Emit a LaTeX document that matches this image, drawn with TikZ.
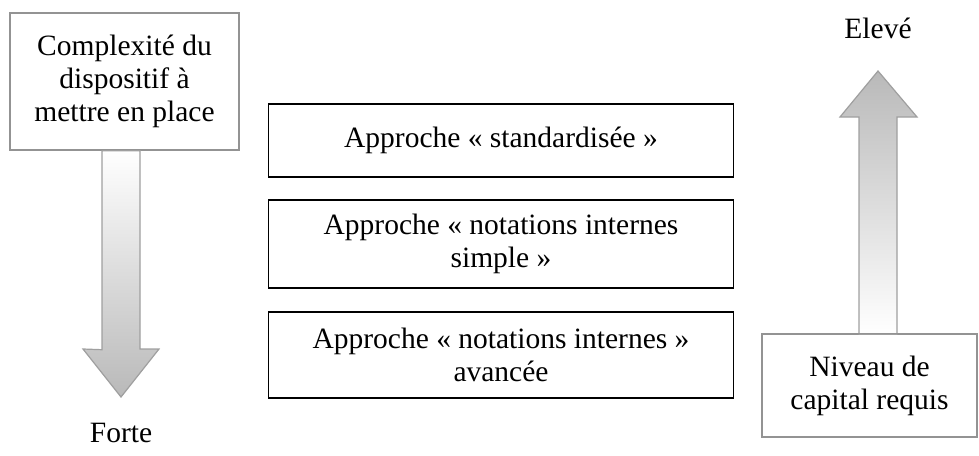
\documentclass[tikz,border=0pt]{standalone}
\usepackage{fontspec}
\setmainfont{Liberation Serif}
\usepackage{tikz}
\usetikzlibrary{calc}

\tikzset{
  txt/.style={font=\fontsize{29.5}{33}\selectfont, align=center, inner sep=0pt},
  approche/.style={txt, draw=black, line width=1.4pt, minimum width=465pt},
  graybox/.style={txt, draw=gray!85, line width=1.4pt, fill=white},
  blockarrow/.style={draw=gray!75, line width=1.2pt, line join=miter}
}

\begin{document}
\begin{tikzpicture}[x=1pt, y=-1pt]
    \useasboundingbox (0,0) rectangle (979,455);
    % left side: complexity, arrow going down
    \node[graybox, minimum width=229pt, minimum height=137pt] (cplx) at (124.5,81.5) {Complexit\'e du\\dispositif \`a\\mettre en place};
    \node[txt] (forte) at (121,433) {Forte};
    \shade[blockarrow, top color=white, bottom color=gray!55]
        ($(cplx.south)+(-22.5,0)$) -- ++(0,199) -- (83,349) -- (121,397) -- (159,349) -- (140,349) -- ($(cplx.south)+(15.5,0)$) -- cycle;
    % middle: the three approaches
    \node[approche, minimum height=73pt] (std) at (501,140.5) {Approche « standardis\'ee »};
    \node[approche, minimum height=88pt] (simple) at (501,244) {Approche « notations internes\\simple »};
    \node[approche, minimum height=86pt] (avance) at (501,355) {Approche « notations internes »\\avanc\'ee};
    % right side: capital, arrow going up
    \node[graybox, minimum width=215pt, minimum height=103pt] (capital) at (869.5,385.5) {Niveau de\\capital requis};
    \node[txt] (eleve) at (878,28) {Elev\'e};
    \shade[blockarrow, top color=gray!55, bottom color=white]
        (859,334) -- (859,117) -- (840,117) -- (878,71) -- (917,117) -- (897,117) -- (897,334) -- cycle;
    \draw[draw=gray!85, line width=1.4pt] (capital.north west) -- (capital.north east);
\end{tikzpicture}
\end{document}
